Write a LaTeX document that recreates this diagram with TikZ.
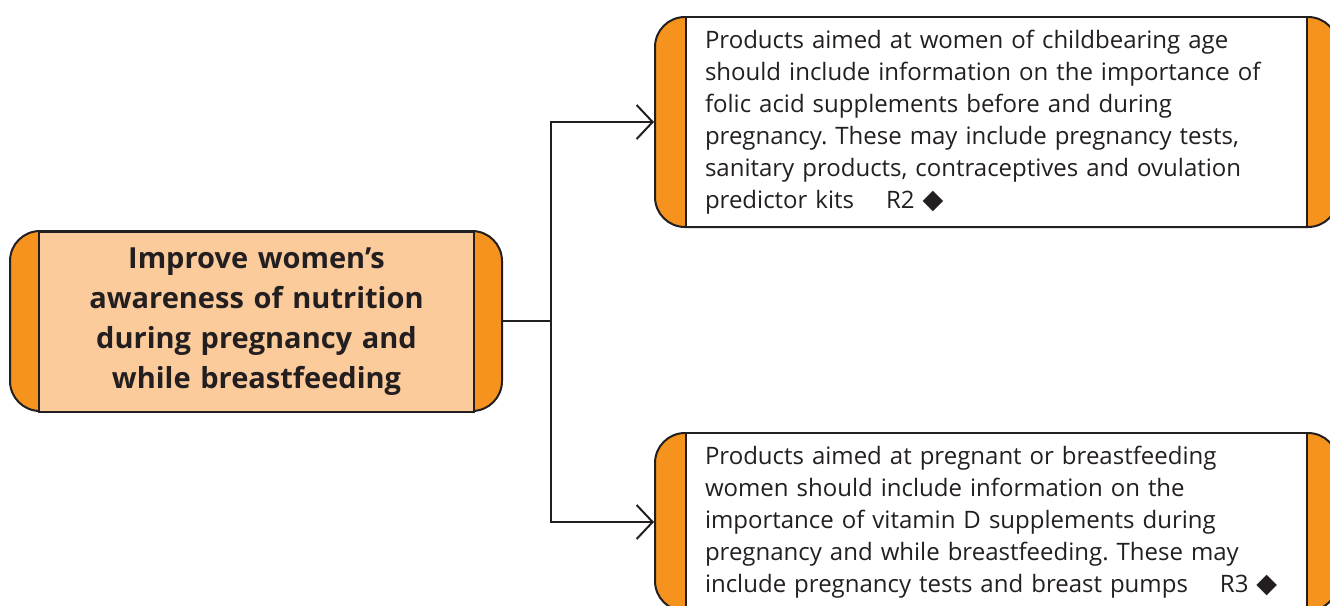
\documentclass[tikz,border=0pt]{standalone}
\usepackage{fontspec}
\setmainfont{Open Sans}
\newfontfamily\symfont{DejaVu Sans}
\usetikzlibrary{arrows.meta}
\definecolor{boxorange}{HTML}{F6921E}
\definecolor{boxlight}{HTML}{FBCB9C}
\definecolor{ink}{HTML}{231F20}
\tikzset{
  outerbox/.style={draw=ink, line width=2pt, fill=boxorange, rounded corners=30pt, inner sep=0pt},
  innerbox/.style={draw=ink, line width=2pt, inner sep=0pt, text=ink},
  conn/.style={draw=ink, line width=2pt},
  arr/.style={conn, -{Straight Barb[length=16pt,width=34pt,line width=2pt]}},
}
\newcommand{\refmark}{{\symfont\fontsize{27}{32}\selectfont ◆}}
\begin{document}
\frenchspacing
\begin{tikzpicture}[x=1pt,y=-1pt]
\useasboundingbox (0,0) rectangle (1330,605);
\clip (0,0) rectangle (1330,605);
% left goal box
\node[outerbox, minimum width=492pt, minimum height=180pt] (goal) at (256,321) {};
\node[innerbox, fill=boxlight, minimum width=435pt, minimum height=180pt, text width=425pt, align=center,
      font=\fontsize{29}{40}\selectfont\bfseries] (goaltext) at (256.5,322)
  {Improve women’s\\awareness of nutrition\\during pregnancy and\\while breastfeeding};
% top right box
\node[outerbox, minimum width=683pt, minimum height=210pt] (rec1) at (996.5,122) {};
\node[innerbox, fill=white, minimum height=210pt, text width=583pt, inner xsep=19pt, align=left,
      font=\fontsize{24}{32}\selectfont] (rec1text) at (996.5,122)
  {Products aimed at women of childbearing age\\
   should include information on the importance of\\
   folic acid supplements before and during\\
   pregnancy. These may include pregnancy tests,\\
   sanitary products, contraceptives and ovulation\\
   predictor kits\hspace{1.0em} R2 \refmark};
% bottom right box
\node[outerbox, minimum width=683pt, minimum height=178pt] (rec2) at (996.5,522) {};
\node[innerbox, fill=white, minimum height=178pt, text width=583pt, inner xsep=19pt, align=left,
      font=\fontsize{24}{32}\selectfont] (rec2text) at (996.5,522)
  {Products aimed at pregnant or breastfeeding\\
   women should include information on the\\
   importance of vitamin D supplements during\\
   pregnancy and while breastfeeding. These may\\
   include pregnancy tests and breast pumps\hspace{1.0em} R3 \refmark};
% connectors
\draw[conn] (goal.east) -- ++(48,0) coordinate (split);
\draw[arr] (split) |- (rec1.west);
\draw[arr] (split) |- (rec2.west);
\end{tikzpicture}
\end{document}
